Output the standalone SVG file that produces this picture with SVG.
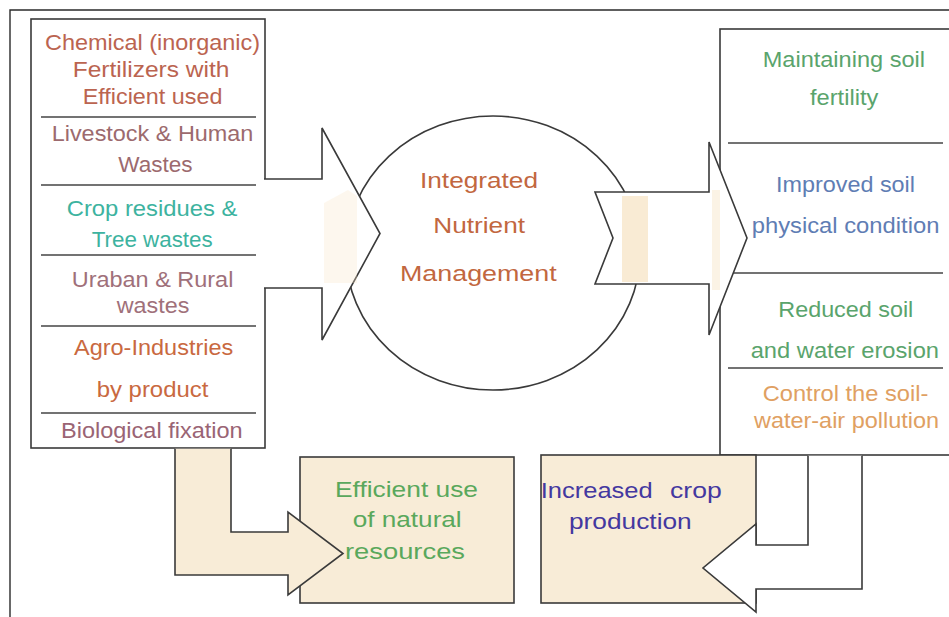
<svg xmlns="http://www.w3.org/2000/svg" width="949" height="617" viewBox="0 0 949 617">
  <defs>
    <style>
      .ln { fill: none; stroke: #3a3a3a; stroke-width: 1.6; }
      .box { fill: #ffffff; stroke: #3a3a3a; stroke-width: 1.6; }
      .peach { fill: #f8ecd7; stroke: #3a3a3a; stroke-width: 1.6; }
      .white { fill: #ffffff; stroke: #3a3a3a; stroke-width: 1.6; }
      .rule { stroke: #444444; stroke-width: 1.6; }
      text { font-family: "Liberation Sans", Arial, sans-serif; font-size: 22px; }
      .t-chem { fill: #bb6450; }
      .t-live { fill: #9c6a6e; }
      .t-crop { fill: #3db3a0; }
      .t-urban { fill: #a0707a; }
      .t-agro { fill: #c9693f; }
      .t-bio { fill: #9a6474; }
      .t-core { fill: #c2673f; font-size: 22.5px; }
      .t-green { fill: #5aa46c; }
      .t-blue { fill: #5f7db4; }
      .t-orange { fill: #e0a062; }
      .t-res { fill: #5aa85c; }
      .t-yield { fill: #4438a0; }
      .ghost { fill: #f7e4c6; }
    </style>
  </defs>

  <rect width="949" height="617" fill="#ffffff"/>

  <!-- outer frame: top and left edges only -->
  <g id="frame">
    <path d="M10,617 V10 H949" fill="none" stroke="#2a2a2a" stroke-width="1.4"/>
  </g>

  <!-- central concept -->
  <g id="inm-core">
    <ellipse cx="493" cy="253" rx="147" ry="137" class="ln"/>
    <text class="t-core" x="420" y="187.5" textLength="118" lengthAdjust="spacingAndGlyphs">Integrated</text>
    <text class="t-core" x="433.3" y="233.3" textLength="91.7" lengthAdjust="spacingAndGlyphs">Nutrient</text>
    <text class="t-core" x="400" y="281" textLength="156.7" lengthAdjust="spacingAndGlyphs">Management</text>
  </g>

  <!-- nutrient sources -->
  <g id="sources">
    <rect x="31" y="19" width="234" height="429" class="box"/>
    <line x1="41" y1="117" x2="256" y2="117" class="rule"/>
    <line x1="41" y1="185" x2="256" y2="185" class="rule"/>
    <line x1="41" y1="255" x2="256" y2="255" class="rule"/>
    <line x1="41" y1="326" x2="256" y2="326" class="rule"/>
    <line x1="41" y1="413" x2="256" y2="413" class="rule"/>
    <text class="t-chem" x="45" y="50" textLength="215" lengthAdjust="spacingAndGlyphs">Chemical (inorganic)</text>
    <text class="t-chem" x="72.7" y="77.3" textLength="156.7" lengthAdjust="spacingAndGlyphs">Fertilizers with</text>
    <text class="t-chem" x="82.7" y="104" textLength="139.7" lengthAdjust="spacingAndGlyphs">Efficient used</text>
    <text class="t-live" x="51.7" y="140.5" textLength="201.7" lengthAdjust="spacingAndGlyphs">Livestock &amp; Human</text>
    <text class="t-live" x="118.3" y="171.7" textLength="74.3" lengthAdjust="spacingAndGlyphs">Wastes</text>
    <text class="t-crop" x="66.7" y="216" textLength="170.7" lengthAdjust="spacingAndGlyphs">Crop residues &amp;</text>
    <text class="t-crop" x="91.7" y="246.7" textLength="121" lengthAdjust="spacingAndGlyphs">Tree wastes</text>
    <text class="t-urban" x="71.7" y="287" textLength="161.7" lengthAdjust="spacingAndGlyphs">Uraban &amp; Rural</text>
    <text class="t-urban" x="116.7" y="313" textLength="72.7" lengthAdjust="spacingAndGlyphs">wastes</text>
    <text class="t-agro" x="74" y="355" textLength="159.3" lengthAdjust="spacingAndGlyphs">Agro-Industries</text>
    <text class="t-agro" x="96.7" y="397" textLength="111.7" lengthAdjust="spacingAndGlyphs">by product</text>
    <text class="t-bio" x="61" y="438" textLength="181.7" lengthAdjust="spacingAndGlyphs">Biological fixation</text>
  </g>

  <!-- benefits -->
  <g id="benefits">
    <rect x="720" y="29" width="240" height="426" class="box"/>
    <line x1="728" y1="143" x2="943" y2="143" class="rule"/>
    <line x1="728" y1="273" x2="943" y2="273" class="rule"/>
    <line x1="728" y1="368" x2="943" y2="368" class="rule"/>
    <text class="t-green" x="762.7" y="66.7" textLength="162.3" lengthAdjust="spacingAndGlyphs">Maintaining soil</text>
    <text class="t-green" x="810" y="105" textLength="68.3" lengthAdjust="spacingAndGlyphs">fertility</text>
    <text class="t-blue" x="776" y="191.7" textLength="139" lengthAdjust="spacingAndGlyphs">Improved soil</text>
    <text class="t-blue" x="751.7" y="233.3" textLength="187.7" lengthAdjust="spacingAndGlyphs">physical condition</text>
    <text class="t-green" x="778.3" y="317.3" textLength="135" lengthAdjust="spacingAndGlyphs">Reduced soil</text>
    <text class="t-green" x="750.7" y="358.3" textLength="188.3" lengthAdjust="spacingAndGlyphs">and water erosion</text>
    <text class="t-orange" x="762.7" y="400.7" textLength="165.7" lengthAdjust="spacingAndGlyphs">Control the soil-</text>
    <text class="t-orange" x="754" y="427.7" textLength="185" lengthAdjust="spacingAndGlyphs">water-air pollution</text>
  </g>

  <!-- outcome: natural resources -->
  <g id="natural-resources">
    <rect x="300" y="457" width="214" height="146" class="peach"/>
    <text class="t-res" x="335" y="496.7" textLength="143" lengthAdjust="spacingAndGlyphs">Efficient use</text>
    <text class="t-res" x="352.7" y="527" textLength="109" lengthAdjust="spacingAndGlyphs">of natural</text>
    <text class="t-res" x="345" y="558.5" textLength="120" lengthAdjust="spacingAndGlyphs">resources</text>
  </g>

  <!-- outcome: crop production -->
  <g id="crop-production">
    <rect x="541" y="455" width="215" height="148" class="peach"/>
    <text class="t-yield" y="498"><tspan x="540.7" textLength="112" lengthAdjust="spacingAndGlyphs">Increased</tspan><tspan x="670" textLength="51.7" lengthAdjust="spacingAndGlyphs">crop</tspan></text>
    <text class="t-yield" x="569" y="529.3" textLength="122.7" lengthAdjust="spacingAndGlyphs">production</text>
  </g>

  <!-- block arrows -->
  <g id="connectors">
    <!-- sources into the core -->
    <path d="M264,179 H322 V128 L380,233.5 L322,340 V288 H264" class="white"/>
    <path d="M324,203 L348,190 L357,196 V283 H324 Z" class="ghost" opacity="0.3"/>
    <!-- core out to benefits -->
    <path d="M595,192 H709 V142 L747,238 L709,335 V284 H595 L613,238 Z" class="white"/>
    <rect x="622" y="196" width="26" height="86" class="ghost" opacity="0.75"/>
    <rect x="712" y="190" width="8" height="100" class="ghost" opacity="0.45"/>
    <!-- sources down to natural resources -->
    <path d="M175,448.8 V575 H288 V595 L343,553.5 L288,512 V532 H231 V448.8" class="peach"/>
    <!-- benefits down to crop production -->
    <path d="M862,455.8 V589 H756 V612 L703,568 L756,524 V545 H808 V455.8" class="white"/>
  </g>
</svg>
